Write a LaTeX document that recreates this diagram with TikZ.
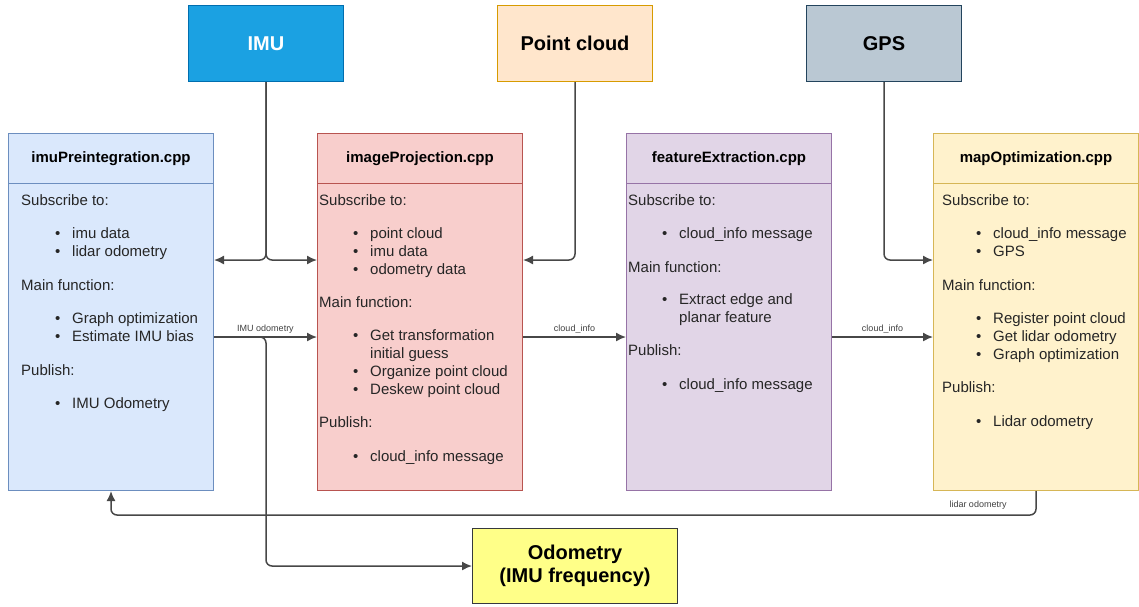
\documentclass[tikz,border=0pt]{standalone}
\usepackage{fontspec}
\setmainfont{Liberation Sans}
\usetikzlibrary{arrows.meta}

\definecolor{imuBlue}{HTML}{1BA1E2}
\definecolor{imuLine}{HTML}{006EAF}
\definecolor{pclFill}{HTML}{FFE6CC}
\definecolor{pclLine}{HTML}{D79B00}
\definecolor{gpsFill}{HTML}{BAC8D3}
\definecolor{gpsLine}{HTML}{23445D}
\definecolor{preFill}{HTML}{DAE8FC}
\definecolor{preLine}{HTML}{6C8EBF}
\definecolor{projFill}{HTML}{F8CECC}
\definecolor{projLine}{HTML}{B85450}
\definecolor{featFill}{HTML}{E1D5E7}
\definecolor{featLine}{HTML}{9673A6}
\definecolor{mapFill}{HTML}{FFF2CC}
\definecolor{mapLine}{HTML}{D6B656}
\definecolor{odoFill}{HTML}{FFFF88}
\definecolor{odoLine}{HTML}{36393D}

\newcommand\bul[1]{\hspace*{34pt}\makebox[17pt][l]{\textbullet}#1}
\newcommand\cont[1]{\hspace*{51pt}#1}

\begin{document}
\begin{tikzpicture}[x=1pt, y=-1pt,
  src/.style={draw, line width=1pt, anchor=north west, minimum width=155pt, minimum height=76pt,
    inner sep=0, font=\fontsize{20}{24}\selectfont\bfseries},
  module/.style={draw, line width=1pt, anchor=north west, minimum width=205pt, minimum height=357pt, inner sep=0},
  title/.style={font=\fontsize{15}{18}\selectfont\bfseries},
  body/.style={anchor=north west, inner sep=0, align=left, font=\fontsize{15}{18}\selectfont, text=black!85},
  conn/.style={draw=black!72, line width=1.5pt, rounded corners=6pt},
  arr/.style={-{Latex[length=10pt,width=9pt]}},
  lbl/.style={font=\fontsize{9}{10}\selectfont, text=black!75, inner sep=1pt}
]
\useasboundingbox (0,0) rectangle (1139,606);

% Sources
\node[src, fill=imuBlue, draw=imuLine, text=white] (imu) at (188,5) {IMU};
\node[src, fill=pclFill, draw=pclLine] (pcl) at (497,5) {Point cloud};
\node[src, fill=gpsFill, draw=gpsLine] (gps) at (806,5) {GPS};

% Modules
\node[module, fill=preFill, draw=preLine] (imuPre) at (8,133) {};
\node[module, fill=projFill, draw=projLine] (imgProj) at (317,133) {};
\node[module, fill=featFill, draw=featLine] (feat) at (626,133) {};
\node[module, fill=mapFill, draw=mapLine] (mapOpt) at (933,133) {};

\draw[preLine, line width=1pt] ([yshift=-50pt]imuPre.north west) -- ([yshift=-50pt]imuPre.north east);
\draw[projLine, line width=1pt] ([yshift=-50pt]imgProj.north west) -- ([yshift=-50pt]imgProj.north east);
\draw[featLine, line width=1pt] ([yshift=-50pt]feat.north west) -- ([yshift=-50pt]feat.north east);
\draw[mapLine, line width=1pt] ([yshift=-50pt]mapOpt.north west) -- ([yshift=-50pt]mapOpt.north east);

\node[title] at ([yshift=-26pt]imuPre.north) {imuPreintegration.cpp};
\node[title] at ([yshift=-26pt]imgProj.north) {imageProjection.cpp};
\node[title] at ([yshift=-26pt]feat.north) {featureExtraction.cpp};
\node[title] at ([yshift=-26pt]mapOpt.north) {mapOptimization.cpp};

% Module texts
\node[body] at (21,194) {Subscribe to:\\[15.5pt]
  \bul{imu data}\\ \bul{lidar odometry}\\[15.5pt]
  Main function:\\[15.5pt]
  \bul{Graph optimization}\\ \bul{Estimate IMU bias}\\[15.5pt]
  Publish:\\[15.5pt]
  \bul{IMU Odometry}};

\node[body] at (319,194) {Subscribe to:\\[15.5pt]
  \bul{point cloud}\\ \bul{imu data}\\ \bul{odometry data}\\[14.5pt]
  Main function:\\[15.5pt]
  \bul{Get transformation}\\ \cont{initial guess}\\ \bul{Organize point cloud}\\ \bul{Deskew point cloud}\\[15pt]
  Publish:\\[15.5pt]
  \bul{cloud\_info message}};

\node[body] at (628,194) {Subscribe to:\\[15.5pt]
  \bul{cloud\_info message}\\[15.5pt]
  Main function:\\[14.5pt]
  \bul{Extract edge and}\\ \cont{planar feature}\\[15pt]
  Publish:\\[15.5pt]
  \bul{cloud\_info message}};

\node[body] at (942,194) {Subscribe to:\\[15.5pt]
  \bul{cloud\_info message}\\ \bul{GPS}\\[15.5pt]
  Main function:\\[15.5pt]
  \bul{Register point cloud}\\ \bul{Get lidar odometry}\\ \bul{Graph optimization}\\[15pt]
  Publish:\\[15.5pt]
  \bul{Lidar odometry}};

% Output
\node[src, fill=odoFill, draw=odoLine, minimum width=205pt, minimum height=75pt, align=center,
  font=\fontsize{20}{23.5}\selectfont\bfseries] (odo) at (472,528) {Odometry\\(IMU frequency)};

% Lanes
\coordinate (laneIn) at (0,260);
\coordinate (laneOut) at (0,337);
\coordinate (laneBack) at (0,515);

% Connectors
\draw[conn, arr] (imu.south) |- (imuPre.east |- laneIn);
\draw[conn, arr] (imu.south) |- (imgProj.west |- laneIn);
\draw[conn, arr] (pcl.south) |- (imgProj.east |- laneIn);
\draw[conn, arr] (gps.south) |- (mapOpt.west |- laneIn);

\draw[conn, arr] (imuPre.east |- laneOut) -- node[lbl, above=2pt] {IMU odometry} (imgProj.west |- laneOut);
\draw[conn, arr] (imuPre.east |- laneOut) -| (imu.south |- odo.west) -- (odo.west);
\draw[conn, arr] (imgProj.east |- laneOut) -- node[lbl, above=2pt] {cloud\_info} (feat.west |- laneOut);
\draw[conn, arr] (feat.east |- laneOut) -- node[lbl, above=2pt] {cloud\_info} (mapOpt.west |- laneOut);

\draw[conn, arr] (mapOpt.south) |- (imuPre.south |- laneBack) -- (imuPre.south);
\node[lbl] (backLbl) at (978,505) {lidar odometry};
\end{tikzpicture}
\end{document}
